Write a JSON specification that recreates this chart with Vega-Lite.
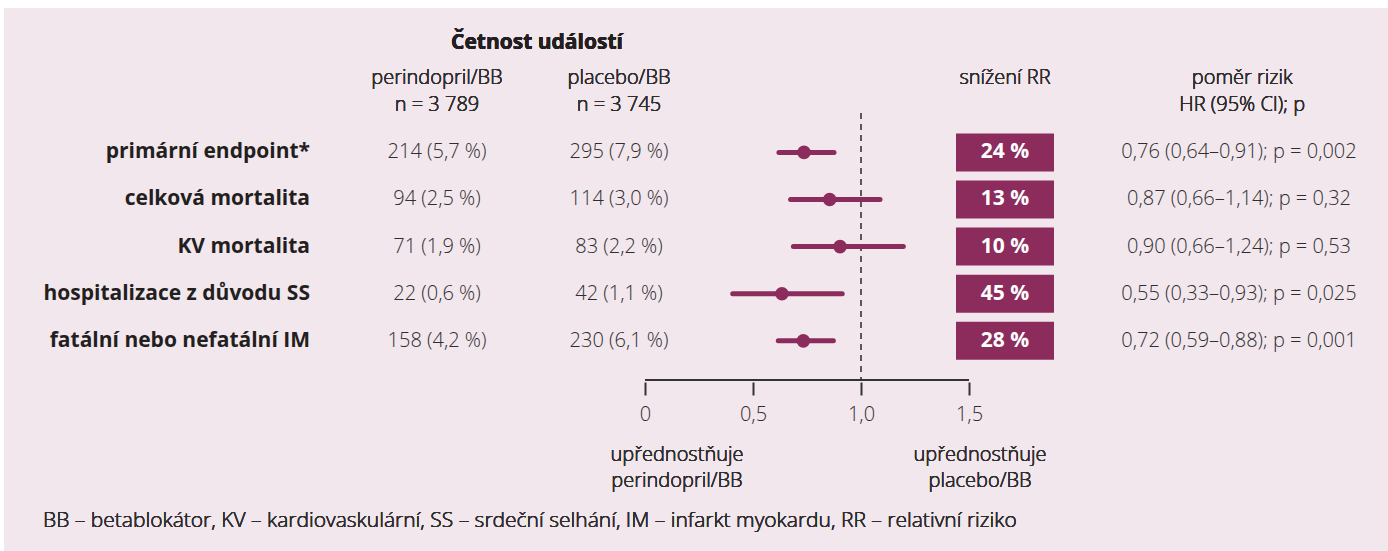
{
  "$schema": "https://vega.github.io/schema/vega-lite/v6.json",
  "width": 1388,
  "height": 551,
  "autosize": {"type": "fit", "contains": "padding"},
  "padding": {"left": 4, "top": 8, "right": 0, "bottom": 0},
  "background": "#ffffff",
  "config": {
    "view": {"fill": "#f3e7ee", "stroke": null},
    "font": "Open Sans",
    "text": {"font": "Open Sans", "fontSize": 20, "color": "#2e2e2e", "fontWeight": 300, "baseline": "middle"},
    "axis": {"title": null, "grid": false, "domain": false}
  },
  "datasets": {
    "rows": [
      {"row": 1, "label": "primární endpoint*", "peri": "214 (5,7 %)", "plac": "295 (7,9 %)", "hr": 0.736, "lo": 0.62, "hi": 0.875, "rr": "24 %", "hrtext": "0,76 (0,64–0,91); p = 0,002"},
      {"row": 2, "label": "celková mortalita", "peri": "94 (2,5 %)", "plac": "114 (3,0 %)", "hr": 0.855, "lo": 0.674, "hi": 1.088, "rr": "13 %", "hrtext": "0,87 (0,66–1,14); p = 0,32"},
      {"row": 3, "label": "KV mortalita", "peri": "71 (1,9 %)", "plac": "83 (2,2 %)", "hr": 0.903, "lo": 0.687, "hi": 1.196, "rr": "10 %", "hrtext": "0,90 (0,66–1,24); p = 0,53"},
      {"row": 4, "label": "hospitalizace z důvodu SS", "peri": "22 (0,6 %)", "plac": "42 (1,1 %)", "hr": 0.634, "lo": 0.406, "hi": 0.913, "rr": "45 %", "hrtext": "0,55 (0,33–0,93);  p = 0,025"},
      {"row": 5, "label": "fatální nebo nefatální IM", "peri": "158 (4,2 %)", "plac": "230 (6,1 %)", "hr": 0.733, "lo": 0.617, "hi": 0.872, "rr": "28 %", "hrtext": "0,72 (0,59–0,88); p = 0,001"}
    ],
    "one": [{"ref": 1, "from": 0, "to": 1.5}]
  },
  "data": {"name": "rows"},
  "layer": [
    {
      "data": {"name": "one"},
      "mark": {"type": "rule", "stroke": "#2a2a2a", "strokeWidth": 1.5, "strokeDash": [6, 5]},
      "encoding": {
        "x": {"field": "ref", "type": "quantitative", "scale": {"domain": [-2.9676, 3.4398], "nice": false, "zero": false},
          "axis": {"values": [0, 0.5, 1, 1.5], "orient": "bottom", "offset": -169, "domain": false, "grid": false, "ticks": true, "tickSize": 13, "tickWidth": 2, "tickColor": "#333333", "labelFont": "Open Sans", "labelFontSize": 20, "labelFontWeight": 300, "labelColor": "#2e2e2e", "labelPadding": 9, "title": null,
            "labelExpr": "datum.value == 0 ? '0' : replace(format(datum.value, '.1f'), '.', ',')"}},
        "y": {"datum": 0.1667, "type": "quantitative", "scale": {"domain": [-1.9583, 9.3542], "reverse": true, "nice": false, "zero": false}, "axis": null},
        "y2": {"datum": 5.8333}
      }
    },
    {
      "data": {"name": "one"},
      "mark": {"type": "rule", "stroke": "#333333", "strokeWidth": 2},
      "encoding": {
        "x": {"field": "from", "type": "quantitative"},
        "x2": {"field": "to"},
        "y": {"datum": 5.8333, "type": "quantitative", "axis": null}
      }
    },
    {
      "mark": {"type": "rule", "stroke": "#8b2c5d", "strokeWidth": 5, "strokeCap": "round"},
      "encoding": {
        "x": {"field": "lo", "type": "quantitative"},
        "x2": {"field": "hi"},
        "y": {"field": "row", "type": "quantitative", "axis": null}
      }
    },
    {
      "mark": {"type": "point", "shape": "circle", "filled": true, "size": 185, "color": "#8b2c5d", "opacity": 1},
      "encoding": {
        "x": {"field": "hr", "type": "quantitative"},
        "y": {"field": "row", "type": "quantitative", "axis": null}
      }
    },
    {
      "mark": {"type": "bar", "color": "#8b2c5d", "size": 38},
      "encoding": {
        "x": {"datum": 1.4398, "type": "quantitative"},
        "x2": {"datum": 1.8935},
        "y": {"field": "row", "type": "quantitative", "axis": null}
      }
    },
    {
      "mark": {"type": "text", "color": "#ffffff", "fontWeight": "bold", "fontSize": 21},
      "encoding": {
        "x": {"datum": 1.6667, "type": "quantitative"},
        "y": {"field": "row", "type": "quantitative", "axis": null},
        "text": {"field": "rr"}
      }
    },
    {
      "mark": {"type": "text", "align": "right", "fontWeight": "bold", "fontSize": 21, "color": "#231f20"},
      "encoding": {
        "x": {"datum": -1.5509, "type": "quantitative"},
        "y": {"field": "row", "type": "quantitative", "axis": null},
        "text": {"field": "label"}
      }
    },
    {
      "mark": {"type": "text"},
      "encoding": {
        "x": {"datum": -0.963, "type": "quantitative"},
        "y": {"field": "row", "type": "quantitative", "axis": null},
        "text": {"field": "peri"}
      }
    },
    {
      "mark": {"type": "text"},
      "encoding": {
        "x": {"datum": -0.1204, "type": "quantitative"},
        "y": {"field": "row", "type": "quantitative", "axis": null},
        "text": {"field": "plac"}
      }
    },
    {
      "mark": {"type": "text"},
      "encoding": {
        "x": {"datum": 2.75, "type": "quantitative"},
        "y": {"field": "row", "type": "quantitative", "axis": null},
        "text": {"field": "hrtext"}
      }
    },
    {
      "mark": {"type": "text", "fontWeight": "bold", "fontSize": 21, "color": "#231f20", "text": "Četnost událostí"},
      "encoding": {"x": {"datum": -0.5, "type": "quantitative"}, "y": {"datum": -1.32, "type": "quantitative", "axis": null}}
    },
    {
      "mark": {"type": "text", "text": "perindopril/BB"},
      "encoding": {"x": {"datum": -0.963, "type": "quantitative"}, "y": {"datum": -0.5833, "type": "quantitative", "axis": null}}
    },
    {
      "mark": {"type": "text", "text": "n = 3 789"},
      "encoding": {"x": {"datum": -0.963, "type": "quantitative"}, "y": {"datum": 0, "type": "quantitative", "axis": null}}
    },
    {
      "mark": {"type": "text", "text": "placebo/BB"},
      "encoding": {"x": {"datum": -0.1204, "type": "quantitative"}, "y": {"datum": -0.5833, "type": "quantitative", "axis": null}}
    },
    {
      "mark": {"type": "text", "text": "n = 3 745"},
      "encoding": {"x": {"datum": -0.1204, "type": "quantitative"}, "y": {"datum": 0, "type": "quantitative", "axis": null}}
    },
    {
      "mark": {"type": "text", "text": "snížení RR"},
      "encoding": {"x": {"datum": 1.6667, "type": "quantitative"}, "y": {"datum": -0.5833, "type": "quantitative", "axis": null}}
    },
    {
      "mark": {"type": "text", "text": "poměr rizik"},
      "encoding": {"x": {"datum": 2.765, "type": "quantitative"}, "y": {"datum": -0.5833, "type": "quantitative", "axis": null}}
    },
    {
      "mark": {"type": "text", "text": "HR (95% CI); p"},
      "encoding": {"x": {"datum": 2.765, "type": "quantitative"}, "y": {"datum": 0, "type": "quantitative", "axis": null}}
    },
    {
      "mark": {"type": "text", "text": "upřednostňuje"},
      "encoding": {"x": {"datum": 0.148, "type": "quantitative"}, "y": {"datum": 7.42, "type": "quantitative", "axis": null}}
    },
    {
      "mark": {"type": "text", "text": "perindopril/BB"},
      "encoding": {"x": {"datum": 0.148, "type": "quantitative"}, "y": {"datum": 7.98, "type": "quantitative", "axis": null}}
    },
    {
      "mark": {"type": "text", "text": "upřednostňuje"},
      "encoding": {"x": {"datum": 1.551, "type": "quantitative"}, "y": {"datum": 7.42, "type": "quantitative", "axis": null}}
    },
    {
      "mark": {"type": "text", "text": "placebo/BB"},
      "encoding": {"x": {"datum": 1.551, "type": "quantitative"}, "y": {"datum": 7.98, "type": "quantitative", "axis": null}}
    },
    {
      "mark": {"type": "text", "align": "left", "fontSize": 21, "text": "BB – betablokátor, KV – kardiovaskulární, SS – srdeční selhání, IM – infarkt myokardu, RR – relativní riziko"},
      "encoding": {"x": {"datum": -2.787, "type": "quantitative"}, "y": {"datum": 8.833, "type": "quantitative", "axis": null}}
    }
  ]
}
